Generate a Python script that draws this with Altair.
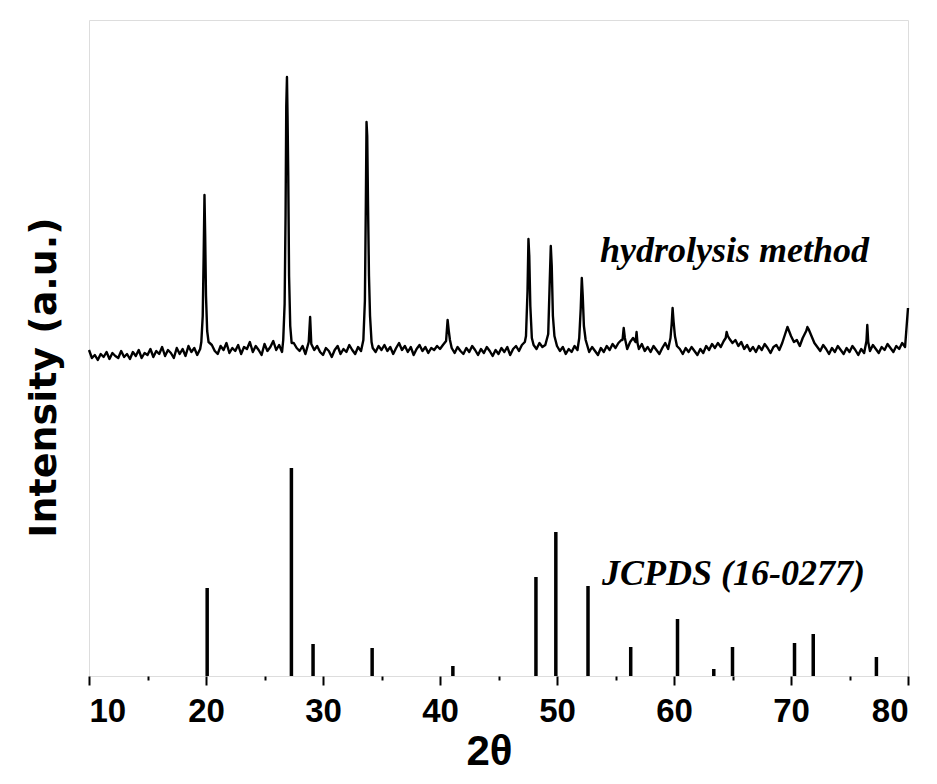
import altair as alt
import pandas as pd

# ---- measured pattern (hydrolysis method) ----
theta_start = 10.0
theta_step = 0.25
baseline_counts = [
    326, 318, 321, 316, 322, 319, 324, 317, 323, 320, 318, 325, 319, 322, 317, 324, 320, 326, 318, 323,
    321, 327, 319, 325, 322, 329, 320, 326, 323, 318, 328, 322, 327, 320, 330, 324, 328, 321, 327, 331,
    329, 324, 331, 325, 322, 330, 326, 333, 323, 328, 325, 331, 322, 329, 327, 334, 324, 330, 326, 321,
    332, 325, 329, 335, 326, 331, 324, 330, 336, 327, 333, 328, 325, 330, 322, 328, 333, 326, 330, 324,
    321, 328, 325, 319, 326, 330, 322, 327, 324, 331, 326, 322, 329, 325, 331, 327, 333, 328, 324, 330,
    326, 331, 325, 329, 322, 328, 333, 326, 330, 324, 329, 321, 327, 331, 325, 329, 323, 328, 326, 330,
    327, 331, 336, 330, 328, 323, 329, 325, 322, 328, 324, 330, 326, 321, 327, 323, 329, 325, 320, 326,
    322, 328, 324, 329, 321, 327, 330, 325, 331, 334, 329, 336, 331, 327, 333, 329, 331, 326, 328, 332,
    330, 325, 329, 322, 327, 324, 330, 326, 333, 328, 331, 324, 329, 325, 321, 328, 324, 330, 326, 332,
    328, 333, 336, 331, 327, 334, 338, 331, 327, 332, 325, 329, 324, 330, 326, 322, 328, 333, 327, 334,
    336, 330, 327, 322, 328, 324, 329, 325, 321, 327, 323, 330, 326, 332, 328, 333, 329, 335, 340, 337,
    333, 336, 330, 334, 327, 331, 325, 329, 324, 330, 326, 332, 328, 323, 329, 331, 326, 333, 342, 346,
    340, 334, 336, 330, 338, 344, 347, 340, 333, 329, 325, 331, 327, 322, 328, 324, 330, 326, 322, 328,
    324, 330, 326, 321, 327, 323, 329, 325, 331, 327, 323, 329, 326, 332, 328, 324, 330, 327, 333, 329,
    368,
]

peak_theta = [
    19.6, 19.72, 19.8, 19.87, 19.93, 20.0, 20.1, 20.22,
    26.6, 26.72, 26.8, 26.86, 26.92, 26.97, 27.03, 27.1, 27.2, 27.32,
    28.78, 28.9, 29.0,
    33.45, 33.58, 33.66, 33.72, 33.78, 33.85, 33.93, 34.02, 34.15,
    40.52, 40.65, 40.75, 40.85,
    47.35, 47.48, 47.56, 47.63, 47.72, 47.85,
    49.25, 49.38, 49.47, 49.55, 49.65, 49.78,
    51.9, 52.03, 52.12, 52.2, 52.3, 52.45,
    55.6, 55.7, 55.8,
    56.72, 56.8, 56.88,
    59.7, 59.8, 59.88, 59.96, 60.08,
    64.42, 64.5, 64.6,
    69.7,
    71.3, 71.4, 71.5,
    76.45, 76.52, 76.6,
]
peak_counts = [
    334, 360, 420, 481, 440, 380, 345, 334,
    336, 372, 460, 570, 599, 560, 500, 400, 350, 333,
    334, 359, 332,
    336, 375, 470, 554, 540, 470, 400, 360, 334,
    335, 356, 345, 336,
    340, 385, 437, 420, 370, 338,
    342, 395, 430, 410, 360, 340,
    338, 368, 398, 380, 350, 336,
    336, 348, 338,
    334, 344, 333,
    338, 352, 368, 355, 340,
    338, 344, 340,
    349,
    345, 349, 347,
    335, 351, 334,
]

# ---- reference pattern JCPDS (16-0277) ----
jcpds_theta = [20.1, 27.3, 29.15, 34.2, 41.1, 48.2, 49.9, 52.65, 56.3, 60.3, 63.4, 65.0, 70.3, 71.9, 77.3]
jcpds_int = [88, 208, 32, 28, 10, 99, 144, 90, 29, 57, 7, 29, 33, 42, 19]

# ---- annotations ----
ann_text = ["hydrolysis method", "JCPDS (16-0277)"]
ann_x = [53.67, 53.85]
ann_y = [414, 91]

x_ticks = [10, 15, 20, 25, 30, 35, 40, 45, 50, 55, 60, 65, 70, 75, 80]

# merge grid and peak points
grid = [(theta_start + i * theta_step, c) for i, c in enumerate(baseline_counts)]
grid = [(t, c) for t, c in grid if all(abs(t - p) >= 0.09 for p in peak_theta)]
pts = sorted(grid + list(zip(peak_theta, peak_counts)))
meas = pd.DataFrame({"theta": [p[0] for p in pts], "counts": [p[1] for p in pts]})
ref = pd.DataFrame({"theta": jcpds_theta, "counts": jcpds_int, "base": [0] * len(jcpds_int)})
ann = pd.DataFrame({"text": ann_text, "theta": ann_x, "counts": ann_y})

xscale = alt.Scale(domain=[10, 80], nice=False, zero=False)
yscale = alt.Scale(domain=[0, 656], nice=False, zero=True)

xaxis = alt.Axis(
    values=x_ticks,
    labelExpr="datum.value % 10 === 0 ? datum.label : ''",
    tickSize={"condition": {"test": "datum.value % 10 === 0", "value": 9}, "value": 4},
    tickWidth=2,
    tickColor="black",
    domain=False,
    grid=False,
    labelFont="Liberation Sans",
    labelFontWeight="bold",
    labelFontSize=33,
    labelColor="black",
    labelPadding=10,
    title="2θ",
    titleFont="Liberation Sans",
    titleFontWeight="bold",
    titleFontSize=42,
    titleColor="black",
    titlePadding=3,
    titleX=400,
    titleAlign="center",
)
yaxis = alt.Axis(
    labels=False,
    ticks=False,
    domain=False,
    grid=False,
    title="Intensity (a.u.)",
    titleFont="DejaVu Sans",
    titleFontWeight="bold",
    titleFontSize=38,
    titleColor="black",
    titleX=-34,
    titleY=357,
    titleAngle=270,
    titleAlign="center",
    titleBaseline="alphabetic",
)

line = alt.Chart(meas).mark_line(color="black", strokeWidth=2.4, strokeJoin="round").encode(
    x=alt.X("theta:Q", scale=xscale, axis=xaxis),
    y=alt.Y("counts:Q", scale=yscale, axis=yaxis),
)
sticks = alt.Chart(ref).mark_rule(color="black", strokeWidth=3.5).encode(
    x="theta:Q",
    y="counts:Q",
    y2="base:Q",
)
labels = alt.Chart(ann).mark_text(
    font="Liberation Serif", fontStyle="italic", fontWeight="bold", fontSize=36,
    align="left", baseline="alphabetic", color="black",
).encode(x="theta:Q", y="counts:Q", text="text:N")

chart = alt.layer(line, sticks, labels).properties(
    width=819,
    height=656,
    autosize=alt.AutoSizeParams(type="none"),
    padding={"left": 81, "top": 12, "right": 21, "bottom": 100},
).configure_view(stroke="black", strokeWidth=2).configure(background="white")

chart.save("out.html", embed_options={"renderer": "svg", "actions": False})
